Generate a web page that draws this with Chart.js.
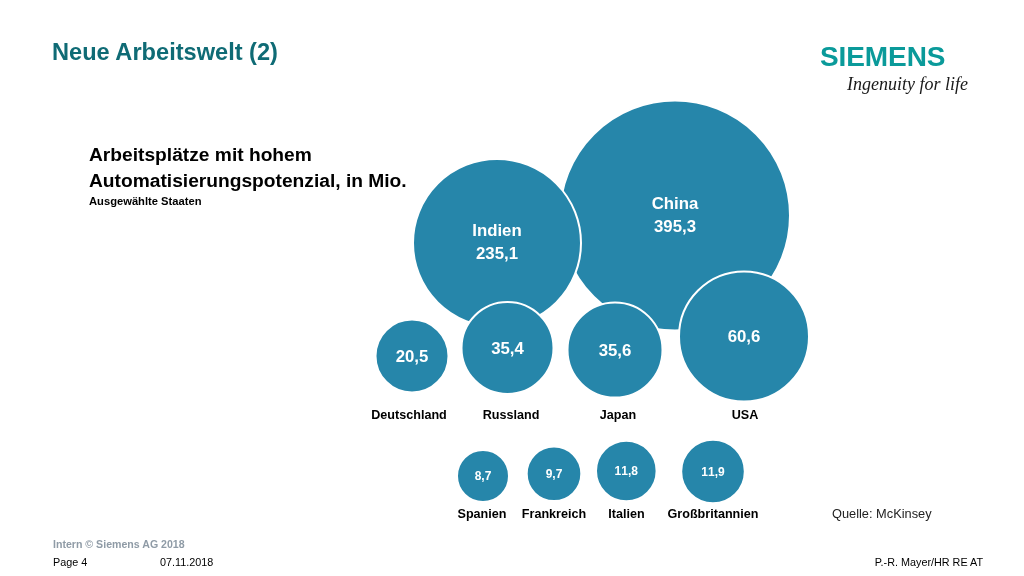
<!DOCTYPE html>
<html lang="de">
<head>
<meta charset="utf-8">
<title>Neue Arbeitswelt (2)</title>
<script src="https://cdn.jsdelivr.net/npm/chart.js@4/dist/chart.umd.min.js"></script>
<style>
  html, body { margin: 0; padding: 0; background: #fff; }
  body { width: 1024px; height: 576px; position: relative; overflow: hidden; font-family: "Liberation Sans", Arial, sans-serif; color: #000; }
  #wrap { position: absolute; left: 0; top: 0; width: 1024px; height: 576px; }
  .t { position: absolute; white-space: nowrap; transform: translateY(-50%); line-height: 1; }
  .b { font-weight: bold; }
</style>
</head>
<body>
<div id="wrap"><canvas id="chart" width="1024" height="576"></canvas></div>

<div class="t b" style="left:52px;top:52.5px;font-size:23.6px;color:#0f6b75">Neue Arbeitswelt (2)</div>
<div class="t b" style="left:89px;top:155px;font-size:19.2px">Arbeitsplätze mit hohem</div>
<div class="t b" style="left:89px;top:181px;font-size:19.2px">Automatisierungspotenzial, in Mio.</div>
<div class="t b" style="left:89px;top:202px;font-size:11.2px">Ausgewählte Staaten</div>

<div class="t b" style="left:820px;top:57px;font-size:28px;color:#0a9a9a;letter-spacing:-0.1px">SIEMENS</div>
<div class="t" style="left:847px;top:84px;font-size:18px;font-family:'Liberation Serif',serif;font-style:italic;color:#1a1a1a">Ingenuity for life</div>

<div class="t" style="left:832px;top:514px;font-size:12.8px;color:#222">Quelle: McKinsey</div>
<div class="t b" style="left:53px;top:544px;font-size:10.6px;color:#8f9ba6">Intern © Siemens AG 2018</div>
<div class="t" style="left:53px;top:562px;font-size:10.8px">Page 4</div>
<div class="t" style="left:160px;top:562px;font-size:10.8px">07.11.2018</div>
<div class="t" style="right:41px;top:562px;font-size:10.8px">P.-R. Mayer/HR RE AT</div>

<script>
// values in Mio. jobs, drawing order = back to front
const countries = ['China', 'Indien', 'Japan', 'Russland', 'USA', 'Deutschland', 'Spanien', 'Frankreich', 'Italien', 'Großbritannien'];
const jobsMio = [395.3, 235.1, 35.6, 35.4, 60.6, 20.5, 8.7, 9.7, 11.8, 11.9];

// where each bubble sits on the slide (axis runs 0..1024 / 0..576), radius in px
const bubbleX = [675, 497, 615, 507.5, 744, 412, 483, 554, 626.3, 713];
const bubbleY = [215.5, 243, 350, 348, 336.5, 356, 476, 473.8, 471, 471.5];
const bubbleR = [115, 84, 47.5, 46, 65, 36.5, 26, 27.3, 30.3, 31.8];

// country names under the bubbles, China and Indien have theirs inside
const nameX = [null, null, 618, 511, 745, 409, 482, 554, 626.5, 713];
const nameY = [null, null, 416, 416, 416, 416, 515, 515, 515, 515];

const BLUE = '#2686aa';

function formatValue(v) {
  return v.toFixed(1).replace('.', ',');
}

const bubbleLabels = {
  id: 'bubbleLabels',
  afterDatasetsDraw(chart) {
    const ctx = chart.ctx;
    const points = chart.getDatasetMeta(0).data;
    ctx.save();
    ctx.textAlign = 'center';
    ctx.textBaseline = 'middle';
    ctx.fontKerning = 'none'; // otherwise 11,8 comes out too tight
    points.forEach((pt, i) => {
      const text = formatValue(jobsMio[i]);
      ctx.fillStyle = '#fff';
      ctx.font = 'bold ' + (jobsMio[i] < 15 ? 12 : 16.8) + 'px "Liberation Sans"';
      if (nameX[i] === null) {
        // big ones carry the name on top of the number
        ctx.fillText(countries[i], pt.x, pt.y - 11.5);
        ctx.fillText(text, pt.x, pt.y + 11.5);
      } else {
        ctx.fillText(text, pt.x, pt.y + 1);
        ctx.fillStyle = '#000';
        ctx.font = 'bold 12.6px "Liberation Sans"';
        ctx.fillText(countries[i], nameX[i], nameY[i]);
      }
    });
    ctx.restore();
  }
};

new Chart(document.getElementById('chart'), {
  type: 'bubble',
  data: {
    datasets: [{
      label: 'Arbeitsplätze mit hohem Automatisierungspotenzial, in Mio.',
      data: countries.map((c, i) => ({ x: bubbleX[i], y: bubbleY[i], r: bubbleR[i] })),
      backgroundColor: BLUE,
      borderColor: '#fff',
      borderWidth: 2
    }]
  },
  options: {
    responsive: false,
    animation: false,
    // no extra room for the radii, the slide coordinates have to stay 1:1
    layout: { padding: 0, autoPadding: false },
    plugins: { legend: { display: false }, tooltip: { enabled: false } },
    scales: {
      x: { type: 'linear', min: 0, max: 1024, display: false },
      y: { type: 'linear', min: 0, max: 576, reverse: true, display: false }
    }
  },
  plugins: [bubbleLabels]
});
</script>
</body>
</html>
